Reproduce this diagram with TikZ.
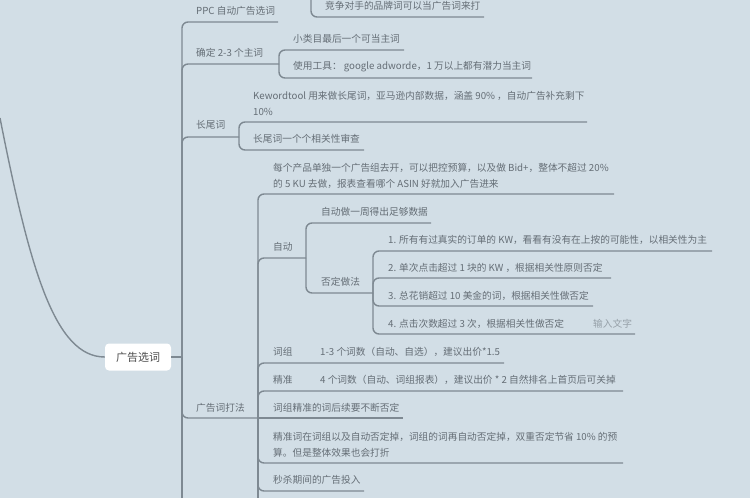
\documentclass[tikz,border=0pt]{standalone}
\usepackage{fontspec}
\setmainfont{Noto Sans CJK SC}
\begin{document}
\begin{tikzpicture}[x=1pt,y=-1pt,
  br/.style={draw=linec,line width=1.4pt,rounded corners=6pt},
  tx/.style={anchor=west,inner sep=0pt,text=txtc,font=\fontsize{9.7}{16}\selectfont,align=left},
  faint/.style={tx,text=txtc!55!bgc}]
\definecolor{bgc}{HTML}{D2DEE6}
\definecolor{linec}{HTML}{7E8992}
\definecolor{txtc}{HTML}{656E76}
\useasboundingbox (0,0) rectangle (750,498);
\fill[bgc] (0,0) rectangle (750,498);
\clip (0,0) rectangle (750,498);
% root
\node[fill=white,rounded corners=4pt,minimum width=66pt,minimum height=27pt,text=black!70,font=\fontsize{11}{12}\selectfont] (root) at (138,357) {广告选词};
\coordinate (start) at (0,118);
\draw[linec,line width=1.4pt] (start) .. controls (30,270) and (55,357) .. (root.west);
\coordinate (J) at (182,357);
\draw[br] (root.east) -- (J);
% main branches
\node[tx] (ppc) at (196,11) {PPC 自动广告选词};
\node[tx] (zhu) at (196,53) {确定 2-3 个主词};
\node[tx] (cw) at (196,125) {长尾词};
\node[tx] (df) at (196,408) {广告词打法};
\coordinate (ppcE) at (278,22);
\coordinate (zhuE) at (279,64);
\coordinate (cwE) at (239,137);
\coordinate (dfE) at (258,418);
\draw[br] (J) |- (ppcE);
\draw[br] (J) |- (zhuE);
\draw[br] (J) |- (cwE);
\draw[br] (J) |- (dfE);
\draw[br] (J) -- (182,500);
% PPC child
\node[tx] (jz) at (325,6) {竞争对手的品牌词可以当广告词来打};
\coordinate (jzT) at (311,-10);
\draw[br] (jzT) |- (484,17);
% 主词 children
\node[tx] (z1) at (293,39) {小类目最后一个可当主词};
\node[tx] (z2) at (293,67) {使用工具： google adworde，1 万以上都有潜力当主词};
\draw[br] (zhuE) |- (404,50);
\draw[br] (zhuE) |- (532,78);
% 长尾词 children
\node[tx] (c1) at (253,103) {Kewordtool 用来做长尾词，亚马逊内部数据，涵盖 90\% ，自动广告补充剩下\\10\%};
\node[tx] (c2) at (253,139) {长尾词一个个相关性审查};
\draw[br] (cwE) |- (587,122);
\draw[br] (cwE) |- (364,150);
% 打法 children
\node[tx] (d0) at (273,176) {每个产品单独一个广告组去开，可以把控预算，以及做 Bid+，整体不超过 20\%\\的 5 KU 去做，报表查看哪个 ASIN 好就加入广告进来};
\node[tx] (zd) at (273,247) {自动};
\node[tx] (cz) at (273,352) {词组};
\node[tx] (cz2) at (320,352) {1-3 个词数（自动、自选），建议出价*1.5};
\node[tx] (jzn) at (273,380) {精准};
\node[tx] (jzn2) at (320,380) {4 个词数（自动、词组报表），建议出价 * 2 自然排名上首页后可关掉};
\node[tx] (d3) at (273,408) {词组精准的词后续要不断否定};
\node[tx] (d4) at (273,445) {精准词在词组以及自动否定掉，词组的词再自动否定掉，双重否定节省 10\% 的预\\算。但是整体效果也会打折};
\node[tx] (d5) at (273,480) {秒杀期间的广告投入};
\coordinate (zdE) at (306,258);
\draw[br] (dfE) |- (614,194);
\draw[br] (dfE) |- (zdE);
\draw[br] (dfE) |- (504,363);
\draw[br] (dfE) |- (623,391);
\draw[br] (dfE) -- (403,418);
\draw[br] (dfE) |- (623,463);
\draw[br] (dfE) |- (364,491);
\draw[br] (dfE) -- (258,500);
% 自动 children
\node[tx] (a1) at (321,212) {自动做一周得出足够数据};
\node[tx] (a2) at (321,282) {否定做法};
\coordinate (a2E) at (373,293);
\draw[br] (zdE) |- (431,223);
\draw[br] (zdE) |- (a2E);
% 否定做法 children
\node[tx] (n1) at (388,240) {1. 所有有过真实的订单的 KW，看看有没有在上按的可能性，以相关性为主};
\node[tx] (n2) at (388,268) {2. 单次点击超过 1 块的  KW ，根据相关性原则否定};
\node[tx] (n3) at (388,296) {3. 总花销超过 10 美金的词，根据相关性做否定};
\node[tx] (n4) at (388,324) {4. 点击次数超过 3 次，根据相关性做否定};
\node[faint] (n4b) at (593,324) {输入文字};
\draw[br] (a2E) |- (712,251);
\draw[br] (a2E) |- (611,278);
\draw[br] (a2E) |- (593,306);
\draw[br] (a2E) |- (635,334);
\end{tikzpicture}
\end{document}
